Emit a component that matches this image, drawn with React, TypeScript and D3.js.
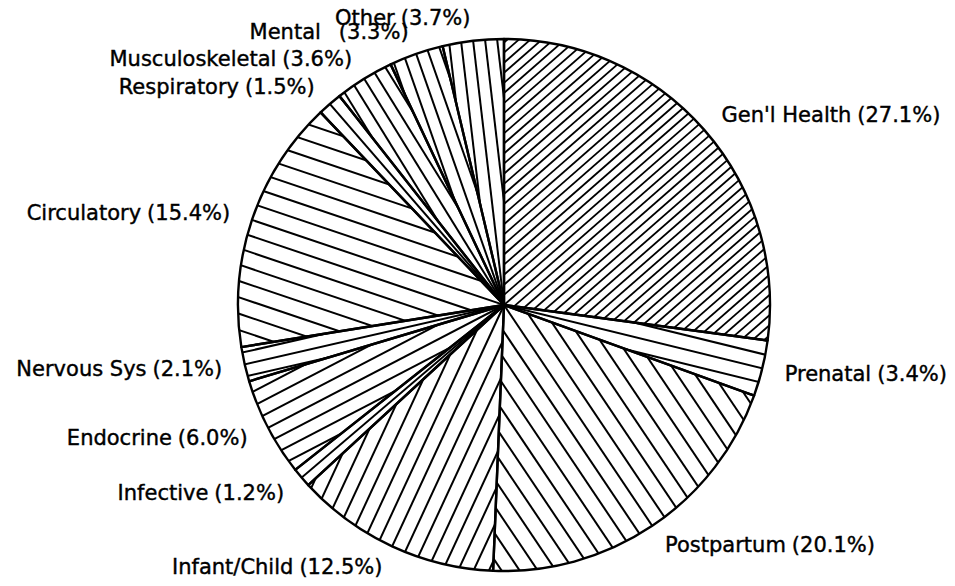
import React from "react";
import * as d3 from "d3";

const categories = [
  "Gen'l Health",
  "Prenatal",
  "Postpartum",
  "Infant/Child",
  "Infective",
  "Endocrine",
  "Nervous Sys",
  "Circulatory",
  "Respiratory",
  "Musculoskeletal",
  "Mental",
  "Other",
];
const values = [27.1, 3.4, 20.1, 12.5, 1.2, 6.0, 2.1, 15.4, 1.5, 3.6, 3.3, 3.7];

// style: hatch gap (px) per slice
const hatchGap = [7.6, 14, 15, 14, 12, 13, 12, 15.5, 12, 12, 12, 12];

const W = 955;
const H = 586;
const CX = 504;
const CY = 305;
const R = 266;
const LABEL_R = 289;

export default function App() {
  const pie = d3
    .pie<number>()
    .sort(null)
    .value((d) => d)(values);
  const arc = d3.arc<d3.PieArcDatum<number>>().innerRadius(0).outerRadius(R);

  const slices = pie.map((p, i) => {
    const mid = (p.startAngle + p.endAngle) / 2;
    const dx = Math.sin(mid);
    const dy = -Math.cos(mid);
    const nx = Math.cos(mid);
    const ny = Math.sin(mid);
    const gap = hatchGap[i];
    const K = Math.ceil(R / gap) + 1;
    const lines = d3.range(-K, K + 1).map((k) => {
      const o = k * gap;
      return {
        x1: nx * o - dx * R * 0.2,
        y1: ny * o - dy * R * 0.2,
        x2: nx * o + dx * R * 1.2,
        y2: ny * o + dy * R * 1.2,
      };
    });
    const lx = dx * LABEL_R;
    const ly = dy * LABEL_R;
    const anchor = dx >= 0 ? "start" : "end";
    return { p, i, path: arc(p) as string, lines, lx, ly, anchor };
  });

  return (
    <svg
      width={W}
      height={H}
      viewBox={`0 0 ${W} ${H}`}
      style={{ position: "absolute", left: 0, top: 0, background: "#fff" }}
    >
      <rect x={0} y={0} width={W} height={H} fill="#fff" />
      <defs>
        {slices.map((s) => (
          <clipPath id={`clip-${s.i}`} key={s.i}>
            <path d={s.path} />
          </clipPath>
        ))}
      </defs>
      <g transform={`translate(${CX},${CY})`}>
        {slices.map((s) => (
          <g key={s.i} clipPath={`url(#clip-${s.i})`}>
            <path d={s.path} fill="#fff" />
            {s.lines.map((l, j) => (
              <line
                key={j}
                x1={l.x1}
                y1={l.y1}
                x2={l.x2}
                y2={l.y2}
                stroke="#000"
                strokeWidth={s.i === 0 ? 1.8 : 2}
              />
            ))}
          </g>
        ))}
        {slices.map((s) => (
          <path
            key={`o-${s.i}`}
            d={s.path}
            fill="none"
            stroke="#000"
            strokeWidth={2.4}
            strokeLinejoin="round"
          />
        ))}
        {slices.map((s) => (
          <text
            key={`t-${s.i}`}
            x={s.lx}
            y={s.ly}
            textAnchor={s.anchor}
            dominantBaseline="central"
            fontFamily="'DejaVu Sans', sans-serif"
            fontSize={21}
            fill="#000"
            stroke="#000"
            strokeWidth={0.4}
          >
            <tspan>{categories[s.i]}</tspan>
            <tspan dx={categories[s.i] === "Mental" ? 18 : 6}>
              {`(${values[s.i].toFixed(1)}%)`}
            </tspan>
          </text>
        ))}
      </g>
    </svg>
  );
}
